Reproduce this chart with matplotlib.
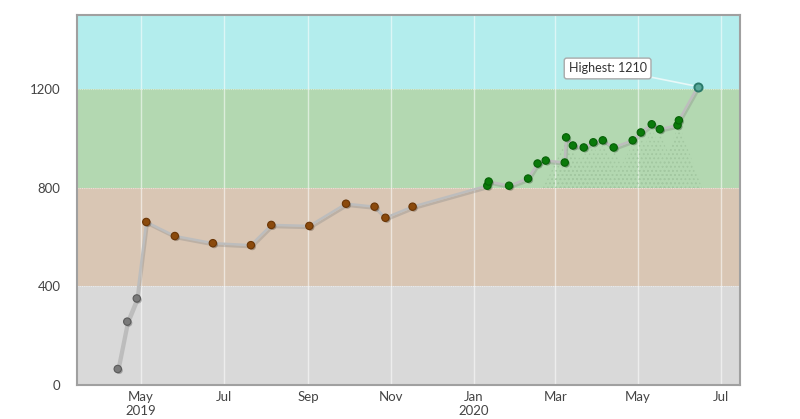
import matplotlib
matplotlib.use("Agg")
import matplotlib.pyplot as plt
import matplotlib.patheffects as pe
import numpy as np
import pandas as pd

plt.rcParams['font.family'] = ['Lato', 'DejaVu Sans']
plt.rcParams['hatch.linewidth'] = 0.6

dates = pd.to_datetime([
    "2019-04-14", "2019-04-21", "2019-04-28", "2019-05-05", "2019-05-26",
    "2019-06-23", "2019-07-21", "2019-08-05", "2019-09-02", "2019-09-29",
    "2019-10-20", "2019-10-28", "2019-11-17", "2020-01-11", "2020-01-12",
    "2020-01-27", "2020-02-10", "2020-02-17", "2020-02-23", "2020-03-08",
    "2020-03-09", "2020-03-14", "2020-03-22", "2020-03-29", "2020-04-05",
    "2020-04-13", "2020-04-27", "2020-05-03", "2020-05-11", "2020-05-17",
    "2020-05-30", "2020-05-31", "2020-06-14",
])
values = np.array([
    65, 257, 351, 661, 604,
    575, 567, 649, 645, 735,
    723, 678, 723, 808, 825,
    808, 837, 898, 910, 902,
    1004, 971, 963, 984, 992,
    963, 992, 1024, 1057, 1037,
    1053, 1073, 1210,
])

bands = [0, 400, 800, 1200, 1500]
band_colors = ["#d9d9d9", "#d9c6b4", "#b3d8b1", "#b3eded"]
marker_colors = ["#7a7a7a", "#8b4a0c", "#0a7a0a", "#3a9a8a"]
marker_edges = ["#5a5a5a", "#6a3505", "#066006", "#2a7a6a"]

xticks = pd.to_datetime(["2019-05-01", "2019-07-01", "2019-09-01", "2019-11-01",
                         "2020-01-01", "2020-03-01", "2020-05-01", "2020-07-01"])
xlabels = ["May\n2019", "Jul", "Sep", "Nov", "Jan\n2020", "Mar", "May", "Jul"]

fig = plt.figure(figsize=(8, 4.19), dpi=100)
ax = fig.add_axes([0.09625, 0.0811, 0.82875, 0.8831])

xmin = pd.Timestamp("2019-03-15")
xmax = pd.Timestamp("2020-07-15")
ax.set_xlim(xmin, xmax)
ax.set_ylim(0, 1500)

# coloured bands
for i in range(len(band_colors)):
    ax.axhspan(bands[i], bands[i + 1], color=band_colors[i], zorder=0, lw=0)

# grid
for t in xticks:
    ax.axvline(t, color="white", lw=1, alpha=0.55, zorder=1)
for b in bands[1:-1]:
    ax.axhline(b, color="white", lw=0.8, alpha=0.5, ls=(0, (1, 1)), zorder=1)

# faint stippled area under the later points
later = dates >= pd.Timestamp("2020-03-08")
half = pd.Timedelta(days=17)
for d, v in zip(dates[later], values[later]):
    if v >= 1200:
        continue
    ax.fill([d - half, d, d + half], [800, v - 15, 800], facecolor="none",
            edgecolor="#a3c8a1", hatch="....", lw=0, zorder=1.5)

# line
ax.plot(dates, values, color="#bdbdbd", lw=1.8, zorder=2,
        path_effects=[pe.SimpleLineShadow(offset=(1, -1.5), shadow_color="#888888", alpha=0.35),
                      pe.Normal()])

# markers coloured by band
idx = np.clip(np.searchsorted(bands, values, side="right") - 1, 0, 3)
for k in range(4):
    m = idx == k
    if not m.any():
        continue
    if k == 3:
        ax.scatter(dates[m], values[m], s=34, facecolor="#5aa99a", edgecolor="#2a7a6a",
                   lw=1.4, zorder=3)
    else:
        ax.scatter(dates[m], values[m], s=28, color=marker_colors[k],
                   edgecolor=marker_edges[k], lw=0.8, zorder=3,
                   path_effects=[pe.SimplePatchShadow(offset=(1, -1), alpha=0.3), pe.Normal()])

# highest annotation
imax = int(np.argmax(values))
ax.annotate(f"Highest: {values[imax]}", xy=(dates[imax], values[imax]),
            xytext=(-65, 13), textcoords="offset points", ha="center", va="center",
            fontsize=9, color="#333333",
            bbox=dict(boxstyle="round,pad=0.35,rounding_size=0.2", fc="white", ec="#aaaaaa", lw=1),
            arrowprops=dict(arrowstyle="-", color="#e8f8f8", lw=1.2, shrinkA=0, shrinkB=4),
            zorder=5)

ax.set_yticks([0, 400, 800, 1200])
ax.set_xticks(xticks)
ax.set_xticklabels(xlabels)
ax.tick_params(axis="both", length=0, labelsize=9.5, colors="#444444")
ax.tick_params(axis="y", pad=12)
ax.tick_params(axis="x", pad=4)

for s in ax.spines.values():
    s.set_color("#a0a0a0")
    s.set_linewidth(1.5)

fig.savefig("out.png", dpi=100)
